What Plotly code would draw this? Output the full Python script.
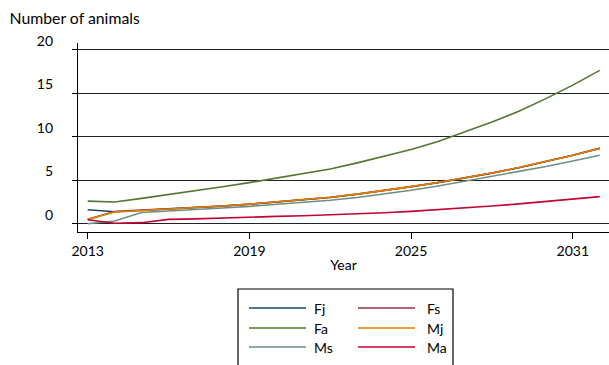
import plotly.graph_objects as go

# Projected population by stage and sex
years = list(range(2013, 2033))

fj = [1.61, 1.38, 1.52, 1.68, 1.83, 2.02, 2.24, 2.48, 2.74, 3.02, 3.39, 3.80, 4.25, 4.73, 5.24, 5.82, 6.44, 7.12, 7.87, 8.67]
fs = [0.50, 1.40, 1.57, 1.72, 1.86, 2.04, 2.26, 2.50, 2.76, 3.04, 3.41, 3.82, 4.27, 4.75, 5.26, 5.84, 6.46, 7.14, 7.89, 8.69]
fa = [2.60, 2.50, 2.92, 3.35, 3.79, 4.25, 4.73, 5.25, 5.80, 6.30, 7.00, 7.75, 8.55, 9.45, 10.55, 11.70, 12.95, 14.40, 15.95, 17.65]
mj = [0.50, 1.34, 1.52, 1.68, 1.84, 2.04, 2.26, 2.50, 2.76, 3.04, 3.41, 3.82, 4.27, 4.75, 5.26, 5.84, 6.46, 7.14, 7.89, 8.69]
ms = [0.00, 0.31, 1.30, 1.45, 1.62, 1.80, 2.00, 2.22, 2.45, 2.70, 3.02, 3.40, 3.85, 4.35, 4.90, 5.42, 5.98, 6.58, 7.22, 7.89]
ma = [0.45, 0.05, 0.12, 0.50, 0.56, 0.68, 0.76, 0.84, 0.92, 1.01, 1.13, 1.27, 1.42, 1.60, 1.80, 2.03, 2.28, 2.54, 2.82, 3.12]

names = ["Fj", "Fs", "Fa", "Mj", "Ms", "Ma"]
series = [fj, fs, fa, mj, ms, ma]
colors = ["#1a476f", "#90353b", "#55752f", "#e37e00", "#6e8e84", "#c10534"]

y_ticks = [0, 5, 10, 15, 20]
x_ticks = [2013, 2019, 2025, 2031]

FONT = "Lato"
W, H = 609, 365
L, R, T, B = 78, 0, 43, 133

fig = go.Figure()
for name, vals, col in zip(names, series, colors):
    fig.add_trace(go.Scatter(x=years, y=vals, mode="lines", name=name,
                             line=dict(color=col, width=1.6), showlegend=False))


def px_to_paper(x, y):
    pw = W - L - R
    ph = H - T - B
    return (x - L) / pw, (H - B - y) / ph


# Legend drawn as a boxed two-column key
shapes = []
annotations = []
x0, y0 = px_to_paper(238, 289)
x1, y1 = px_to_paper(453, 380)
shapes.append(dict(type="rect", xref="paper", yref="paper", x0=x0, y0=y0, x1=x1, y1=y1,
                   line=dict(color="black", width=1.2), fillcolor="rgba(0,0,0,0)"))
col_line = [(249, 306, 312), (358, 415, 425)]
row_y = [308, 328, 347]
for i, (name, col) in enumerate(zip(names, colors)):
    r, c = divmod(i, 2)
    lx0, ly = px_to_paper(col_line[c][0], row_y[r])
    lx1, _ = px_to_paper(col_line[c][1], row_y[r])
    tx, _ = px_to_paper(col_line[c][2], row_y[r])
    shapes.append(dict(type="line", xref="paper", yref="paper", x0=lx0, x1=lx1, y0=ly, y1=ly,
                       line=dict(color=col, width=1.6)))
    annotations.append(dict(text=name, xref="paper", yref="paper", x=tx, y=ly,
                            xanchor="left", yanchor="middle", showarrow=False,
                            font=dict(family=FONT, size=14, color="black")))

fig.update_layout(
    width=W, height=H,
    margin=dict(l=L, r=R, t=T, b=B, pad=0),
    paper_bgcolor="white", plot_bgcolor="white",
    font=dict(family=FONT, size=14, color="black"),
    title=dict(text="Number of animals", xref="container", yref="container",
               x=9.5 / W, y=1 - 18 / H, xanchor="left", yanchor="middle",
               font=dict(family=FONT, size=15.8, color="black")),
    shapes=shapes,
    annotations=annotations,
    xaxis=dict(range=[2012.64, 2032.343], tickvals=x_ticks, ticktext=[str(v) for v in x_ticks],
               showgrid=False, zeroline=False, showline=True, linecolor="black", linewidth=1.3,
               ticks="outside", ticklen=6, tickwidth=1.3, tickcolor="black",
               tickfont=dict(family=FONT, size=14),
               title=dict(text="Year", standoff=2, font=dict(family=FONT, size=14))),
    yaxis=dict(range=[-0.954, 20.80], tickvals=y_ticks, ticktext=[str(v) for v in y_ticks],
               showgrid=True, gridcolor="#222222", gridwidth=1.4, zeroline=False,
               showline=True, linecolor="black", linewidth=1.3,
               ticks="outside", ticklen=5, tickwidth=1.3, tickcolor="black",
               ticklabelshift=-9, ticklabelstandoff=16,
               tickfont=dict(family=FONT, size=14)),
)

fig.write_html("out.html")
